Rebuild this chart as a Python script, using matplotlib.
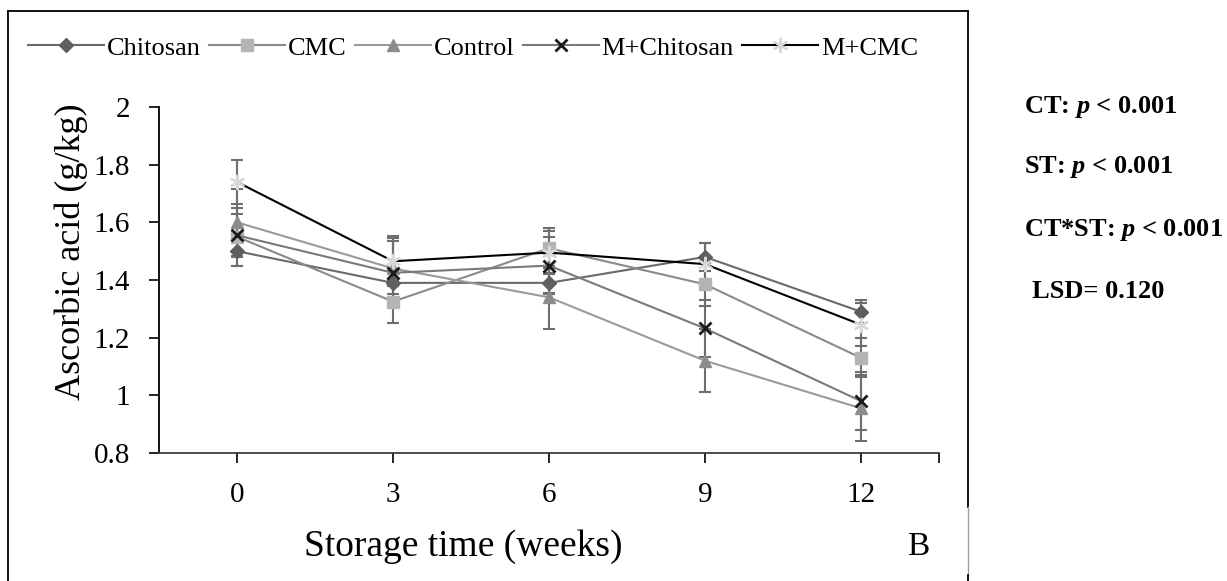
import matplotlib
matplotlib.use("Agg")
import matplotlib.pyplot as plt
from matplotlib.lines import Line2D
import numpy as np

plt.rcParams['font.family'] = ['Liberation Serif', 'DejaVu Serif']
plt.rcParams['mathtext.fontset'] = 'custom'
plt.rcParams['mathtext.it'] = 'Liberation Serif:italic:bold'
plt.rcParams['mathtext.rm'] = 'Liberation Serif:bold'

# Storage time categories
weeks = ["0", "3", "6", "9", "12"]

# Ascorbic acid (g/kg) per treatment and error bar half-widths
chitosan = [1.50, 1.39, 1.39, 1.48, 1.29]
chitosan_err = [0.05, 0.04, 0.035, 0.05, 0.04]
cmc = [1.55, 1.325, 1.51, 1.385, 1.13]
cmc_err = [0.10, 0.075, 0.07, 0.075, 0.068]
control = [1.60, 1.44, 1.34, 1.12, 0.955]
control_err = [0.117, 0.107, 0.11, 0.11, 0.115]
m_chitosan = [1.555, 1.425, 1.45, 1.232, 0.98]
m_chitosan_err = [0.074, 0.11, 0.10, 0.10, 0.10]
m_cmc = [1.74, 1.465, 1.495, 1.455, 1.245]
m_cmc_err = [0.075, 0.087, 0.075, 0.075, 0.075]

series = [
    ("Chitosan", chitosan, chitosan_err, dict(marker='D', ms=7.5, mfc='#5f5f5f', mec='#5f5f5f', color='#6a6a6a')),
    ("CMC", cmc, cmc_err, dict(marker='s', ms=8.5, mfc='#b4b4b4', mec='#b4b4b4', color='#8a8a8a')),
    ("Control", control, control_err, dict(marker='^', ms=9, mfc='#8c8c8c', mec='#8c8c8c', color='#9a9a9a')),
    ("M+Chitosan", m_chitosan, m_chitosan_err, dict(marker='x', ms=9, mfc='#1a1a1a', mec='#1a1a1a', mew=2.0, color='#7a7a7a')),
    ("M+CMC", m_cmc, m_cmc_err, dict(marker=(6, 2, 0), ms=11, mfc='#d8d8d8', mec='#d8d8d8', mew=1.6, color='#000000')),
]

fig = plt.figure(figsize=(12.27, 5.81), dpi=100)
ax = fig.add_axes([159/1227, 1-453/581, 780/1227, 346/581])

x = np.arange(len(weeks))
handles = []
for name, vals, err, st in series:
    ax.errorbar(x, vals, yerr=err, fmt='none', ecolor='#6e6e6e', elinewidth=1.5,
                capsize=4.5, capthick=1.5, zorder=2)
for name, vals, err, st in series:
    ln, = ax.plot(x, vals, lw=1.5, zorder=3, **st)
    handles.append(ln)

ax.set_xlim(-0.5, 4.5)
ax.set_ylim(0.8, 2.0)
ax.set_yticks([0.8, 1.0, 1.2, 1.4, 1.6, 1.8, 2.0])
ax.set_yticklabels(["0.8", "1", "1.2", "1.4", "1.6", "1.8", "2"])
ax.set_xticks(list(x) + [4.5])
ax.set_xticklabels(weeks + [""])
ax.tick_params(axis='both', labelsize=21, direction='out', length=7, width=1.2, colors='black')
ax.tick_params(axis='y', pad=14)
ax.tick_params(axis='x', pad=14)
for side in ['top', 'right']:
    ax.spines[side].set_visible(False)
ax.spines['left'].set_linewidth(1.3)
ax.spines['bottom'].set_linewidth(1.3)
ax.spines['bottom'].set_color('#404040')

ax.set_ylabel("Ascorbic acid (g/kg)", fontsize=26, va='center')
ax.yaxis.set_label_coords(-0.112, 0.581)
ax.set_xlabel("Storage time (weeks)", fontsize=27, va='center')
ax.xaxis.set_label_coords(0.39, -0.27)

leg = fig.legend(handles, [s[0] for s in series], loc='center', bbox_to_anchor=(473/1227, 1-48/581),
                 ncol=5, frameon=False, fontsize=19, handlelength=2.9, handletextpad=0.1,
                 columnspacing=0.3, borderaxespad=0, borderpad=0)

# Statistics panel
fig.text(1024/1227, 1-107/581, r"CT: $p$ < 0.001", fontsize=19, fontweight='bold', va='center', ha='left')
fig.text(1024/1227, 1-167/581, r"ST: $p$ < 0.001", fontsize=19, fontweight='bold', va='center', ha='left')
fig.text(1024/1227, 1-230/581, r"CT*ST: $p$ < 0.001", fontsize=19, fontweight='bold', va='center', ha='left')
fig.text(1032/1227, 1-292/581, "LSD= 0.120", fontsize=19, fontweight='bold', va='center', ha='left')

fig.text(918/1227, 1-547/581, "B", fontsize=24, va='center', ha='center')

# Outer frame
fx = lambda px: px/1227
fy = lambda py: 1-py/581
fig.add_artist(Line2D([fx(8), fx(968)], [fy(11), fy(11)], color='black', lw=1.3))
fig.add_artist(Line2D([fx(8), fx(8)], [fy(11), fy(581)], color='black', lw=1.3))
fig.add_artist(Line2D([fx(968), fx(968)], [fy(11), fy(507)], color='black', lw=1.3))
fig.add_artist(Line2D([fx(968), fx(968)], [fy(507), fy(575)], color='#a0a0a0', lw=1.0))
fig.add_artist(Line2D([fx(968), fx(968)], [fy(575), fy(581)], color='black', lw=1.3))

fig.savefig("out.png", dpi=100)
